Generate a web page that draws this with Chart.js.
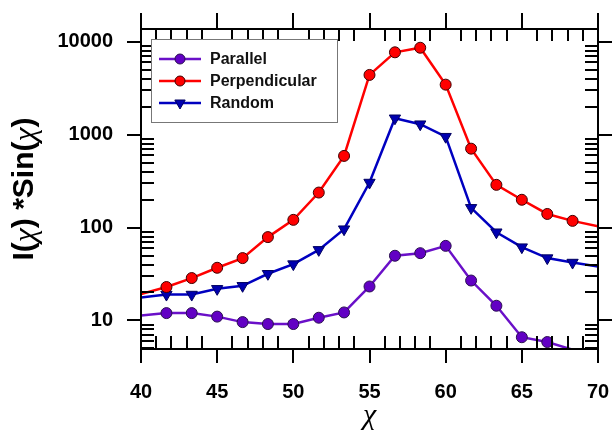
<!DOCTYPE html>
<html lang="en">

<head>
    <meta charset="UTF-8">
    <title>I(χ) Sin(χ) vs χ</title>
    <script src="https://cdn.jsdelivr.net/npm/chart.js"></script>
    <style>
        body { margin: 0; background: #fff; }
    </style>
</head>

<body>
    <canvas id="chart" width="613" height="438"></canvas>

    <script>
        // chi values (x = 40 and x = 70 are the plot edges, where the lines run in)
        const chi = [40, 41.67, 43.33, 45, 46.67, 48.33, 50, 51.67, 53.33, 55, 56.67, 58.33, 60, 61.67, 63.33, 65, 66.67, 68.33, 70];
        const parallel = [11.3, 12.0, 12.0, 11.0, 9.6, 9.15, 9.15, 10.7, 12.2, 23.2, 49.7, 53, 63.5, 26.9, 14.4, 6.6, 5.86, 4.85, null];
        const perpendicular = [19.2, 22.9, 28.6, 36.9, 46.9, 78.9, 121, 238, 590, 4390, 7690, 8610, 3450, 706, 288, 199, 140, 118, 103];
        const random = [17.7, 19, 19, 21.9, 23.6, 31.8, 40.4, 57.5, 96, 305, 1500, 1295, 950, 163, 89, 61.5, 46.9, 42, 38];

        const xTicks = [40, 45, 50, 55, 60, 65, 70];
        const yTicks = [10, 100, 1000, 10000];
        const xMin = 40, xMax = 70, yMin = 4.93, yMax = 13700;

        const FONT = '"Liberation Sans", Arial, sans-serif';
        const SERIF = '"Liberation Serif", "Times New Roman", serif';

        // y title pieces: [text, is greek]
        const yTitle = [['I(', false], ['χ', true], [') *Sin(', false], ['χ', true], [')', false]];

        function pts(values) {
            return chi.map((c, i) => ({ x: c, y: values[i] }));
        }

        // hide markers on edge points and those under the axis
        function markerRadius(r) {
            return (c) => {
                const p = c.raw;
                if (!p || p.y == null) return 0;
                if (p.x <= xMin || p.x >= xMax || p.y < yMin) return 0;
                return r;
            };
        }

        // frame + Origin style ticks: majors outward, minors inward
        const framePlugin = {
            id: 'frame',
            afterDatasetsDraw(chart) {
                const { ctx, chartArea: a, scales: { x, y } } = chart;
                ctx.save();
                ctx.strokeStyle = '#000';
                ctx.lineWidth = 2;
                ctx.strokeRect(a.left, a.top, a.right - a.left, a.bottom - a.top);
                ctx.beginPath();
                for (let v = xMin + 1; v < xMax; v++) {
                    if (xTicks.includes(v)) continue;
                    const px = Math.round(x.getPixelForValue(v));
                    ctx.moveTo(px, a.bottom); ctx.lineTo(px, a.bottom - 13);
                    ctx.moveTo(px, a.top); ctx.lineTo(px, a.top + 12);
                }
                xTicks.forEach(v => {
                    const px = Math.round(x.getPixelForValue(v));
                    ctx.moveTo(px, a.bottom); ctx.lineTo(px, a.bottom + 14);
                    ctx.moveTo(px, a.top); ctx.lineTo(px, a.top - 16);
                });
                [1, 10, 100, 1000, 10000].forEach(d => {
                    for (let m = 2; m <= 9; m++) {
                        const v = m * d;
                        if (v < yMin || v > yMax) continue;
                        const py = Math.round(y.getPixelForValue(v));
                        ctx.moveTo(a.left, py); ctx.lineTo(a.left + 13, py);
                        ctx.moveTo(a.right, py); ctx.lineTo(a.right - 13, py);
                    }
                });
                yTicks.forEach(v => {
                    const py = Math.round(y.getPixelForValue(v));
                    ctx.moveTo(a.left, py); ctx.lineTo(a.left - 14, py);
                    ctx.moveTo(a.right, py); ctx.lineTo(a.right + 14, py);
                });
                ctx.stroke();
                ctx.restore();
            }
        };

        // rotated y title with an italic greek chi
        const yTitlePlugin = {
            id: 'yTitle',
            afterDraw(chart) {
                const { ctx, chartArea: a } = chart;
                const fontFor = (g) => g ? 'italic 32px ' + SERIF : 'bold 30px ' + FONT;
                ctx.save();
                ctx.translate(25, (a.top + a.bottom) / 2);
                ctx.rotate(-Math.PI / 2);
                ctx.fillStyle = '#000';
                ctx.textBaseline = 'middle';
                let total = 0;
                yTitle.forEach(([t, g]) => { ctx.font = fontFor(g); total += ctx.measureText(t).width; });
                let cx = -total / 2;
                yTitle.forEach(([t, g]) => {
                    ctx.font = fontFor(g);
                    ctx.fillText(t, cx, g ? 2 : 0);
                    cx += ctx.measureText(t).width;
                });
                ctx.restore();
            }
        };

        // boxed legend inside the plot, top left
        const legendPlugin = {
            id: 'boxLegend',
            afterDraw(chart) {
                const { ctx, chartArea: a } = chart;
                const bx = a.left + 10, by = a.top + 10;
                ctx.save();
                ctx.fillStyle = '#fff';
                ctx.fillRect(bx, by, 186, 83);
                ctx.strokeStyle = '#777';
                ctx.lineWidth = 1;
                ctx.strokeRect(bx + 0.5, by + 0.5, 186, 83);
                chart.data.datasets.forEach((ds, i) => {
                    const cy = by + 20 + i * 22;
                    ctx.strokeStyle = ds.borderColor;
                    ctx.lineWidth = 2.5;
                    ctx.beginPath();
                    ctx.moveTo(bx + 8, cy); ctx.lineTo(bx + 50, cy);
                    ctx.stroke();
                    ctx.fillStyle = ds.pointBackgroundColor;
                    ctx.strokeStyle = ds.pointBorderColor;
                    ctx.lineWidth = 1;
                    Chart.helpers.drawPoint(ctx, {
                        pointStyle: ds.pointStyle, radius: ds.legendRadius,
                        rotation: ds.pointRotation || 0, borderWidth: 1
                    }, bx + 29, cy);
                    ctx.fillStyle = '#111';
                    ctx.font = 'bold 16px ' + FONT;
                    ctx.textBaseline = 'middle';
                    ctx.fillText(ds.label, bx + 59, cy + 1);
                });
                ctx.restore();
            }
        };

        new Chart(document.getElementById('chart'), {
            type: 'line',
            data: {
                datasets: [{
                    label: 'Parallel',
                    data: pts(parallel),
                    borderColor: '#6a10c8',
                    pointBackgroundColor: '#6200c4',
                    pointBorderColor: '#2a1050',
                    pointStyle: 'circle',
                    legendRadius: 5,
                    pointRadius: markerRadius(5.5)
                }, {
                    label: 'Perpendicular',
                    data: pts(perpendicular),
                    borderColor: '#ff0000',
                    pointBackgroundColor: '#ff0000',
                    pointBorderColor: '#400000',
                    pointStyle: 'circle',
                    legendRadius: 5,
                    pointRadius: markerRadius(5.5)
                }, {
                    label: 'Random',
                    data: pts(random),
                    borderColor: '#0000c0',
                    pointBackgroundColor: '#0000b0',
                    pointBorderColor: '#000060',
                    pointStyle: 'triangle',
                    pointRotation: 180,
                    legendRadius: 6,
                    pointRadius: markerRadius(6.5)
                }]
            },
            options: {
                responsive: false,
                animation: false,
                clip: 0,
                layout: { padding: { left: 0, top: 29, right: 15, bottom: 0 } },
                elements: {
                    line: { borderWidth: 2.5, tension: 0 },
                    point: { borderWidth: 1, hoverRadius: 5 }
                },
                plugins: {
                    legend: { display: false },
                    tooltip: { enabled: false }
                },
                scales: {
                    x: {
                        type: 'linear',
                        min: xMin,
                        max: xMax,
                        afterBuildTicks: (s) => { s.ticks = xTicks.map(v => ({ value: v })); },
                        afterFit: (s) => { s.height = 89; s.paddingLeft = 0; s.paddingRight = 0; },
                        grid: { display: false, drawTicks: false },
                        border: { display: false },
                        ticks: {
                            padding: 31,
                            color: '#000',
                            font: { family: FONT, size: 20, weight: 'bold' },
                            maxRotation: 0
                        },
                        title: {
                            display: true,
                            text: 'χ',
                            color: '#000',
                            font: { family: SERIF, size: 30, style: 'italic' }
                        }
                    },
                    y: {
                        type: 'logarithmic',
                        min: yMin,
                        max: yMax,
                        afterBuildTicks: (s) => { s.ticks = yTicks.map(v => ({ value: v })); },
                        afterFit: (s) => { s.width = 141; s.paddingTop = 0; s.paddingBottom = 0; },
                        grid: { display: false, drawTicks: false },
                        border: { display: false },
                        ticks: {
                            padding: 28,
                            color: '#000',
                            font: { family: FONT, size: 20, weight: 'bold' },
                            callback: (v) => String(v)
                        }
                    }
                }
            },
            plugins: [framePlugin, yTitlePlugin, legendPlugin]
        });
    </script>
</body>

</html>
